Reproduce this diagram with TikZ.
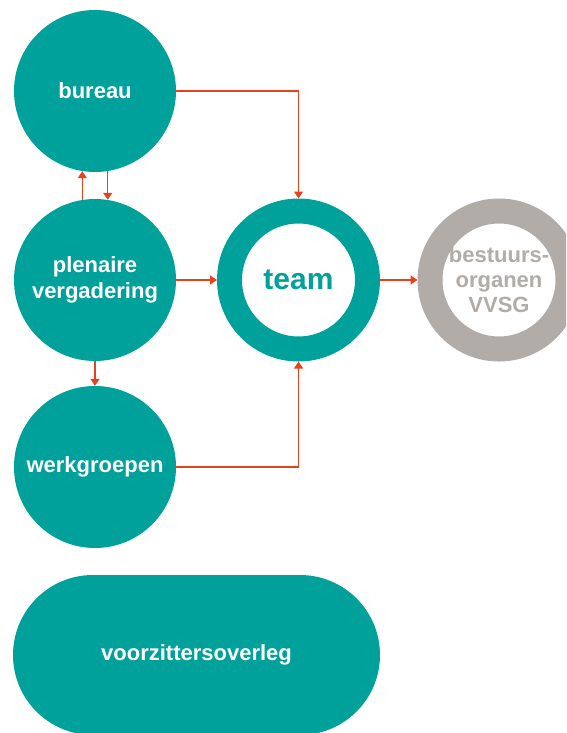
\documentclass[tikz,border=0pt]{standalone}
\usepackage{fontspec}
\setmainfont{Liberation Sans}
\usepackage{tikz}
\usetikzlibrary{arrows.meta,calc}
\definecolor{vvsgteal}{HTML}{00A19A}
\definecolor{vvsggrey}{HTML}{B1ACA7}
\definecolor{vvsgred}{HTML}{E8411E}
\tikzset{
  orgaan/.style={circle,fill=vvsgteal,minimum size=162pt,inner sep=0pt,
    text=white,align=center,font=\bfseries\fontsize{22}{26}\selectfont},
  ring/.style={circle,draw=#1,line width=25pt,fill=white,minimum size=138pt,
    inner sep=0pt,align=center,text=#1},
  pijl/.style={draw=vvsgred,line width=1.3pt,-{Triangle[length=7pt,width=9pt]}}
}

\begin{document}
\begin{tikzpicture}[x=1pt,y=-1pt]
\useasboundingbox (0,0) rectangle (566,733);
\clip (0,0) rectangle (566,733);
\node[orgaan] (bureau) at (95,91) {bureau};
\node[orgaan] (plenaire) at (95,280) {plenaire\\vergadering};
\node[orgaan] (werkgroepen) at (95,467) {werkgroepen};
\node[ring=vvsgteal,font=\bfseries\fontsize{30}{34}\selectfont] (team) at (298.5,280) {team};
\node[ring=vvsggrey,font=\bfseries\fontsize{22}{25}\selectfont] (bestuur) at (499,280) {bestuurs-\\organen\\VVSG};
\node[rectangle,fill=vvsgteal,minimum width=367pt,minimum height=160pt,
  rounded corners=80pt,text=white,font=\bfseries\fontsize{22}{26}\selectfont]
  (overleg) at (196.5,655) {voorzittersoverleg};
% verbindingen
\draw[pijl] (bureau.east) -| (team.north);
\draw[pijl] (bureau.279) -- (plenaire.81);
\draw[pijl] (plenaire.99) -- (bureau.261);
\draw[pijl] (plenaire.east) -- (team.west);
\draw[pijl] (plenaire.south) -- (werkgroepen.north);
\draw[pijl] (werkgroepen.east) -| (team.south);
\draw[pijl] (team.east) -- (bestuur.west);
\end{tikzpicture}
\end{document}
